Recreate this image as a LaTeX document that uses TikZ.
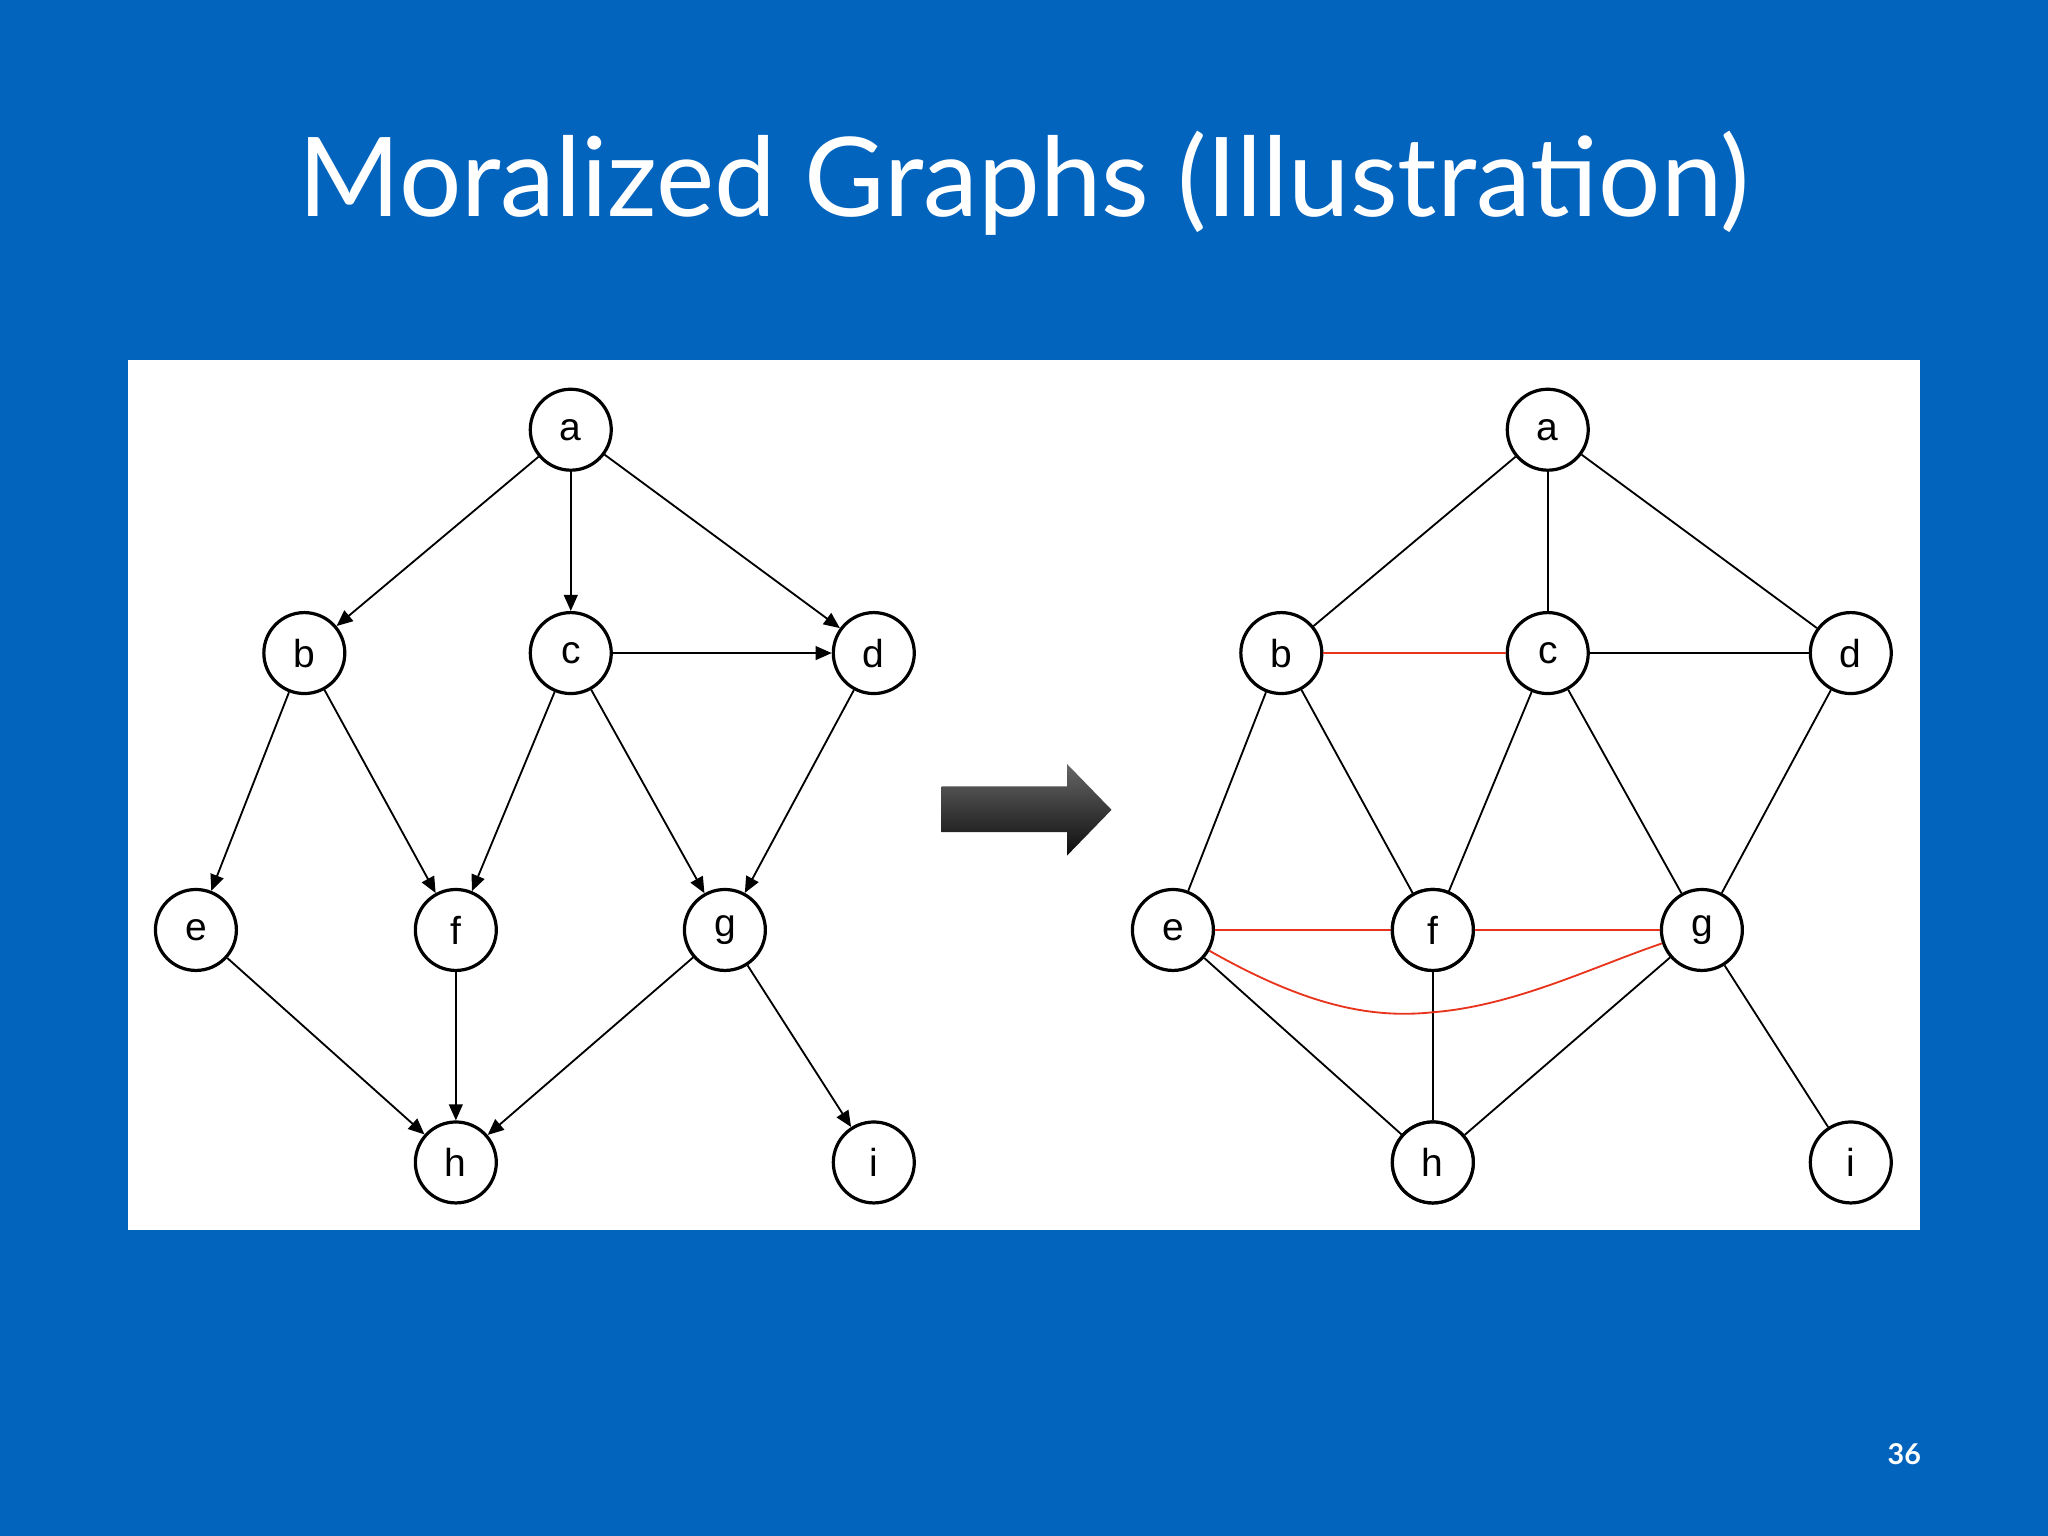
\documentclass[tikz,border=0pt]{standalone}
\usepackage{fontspec}
\setmainfont{Lato}
\newfontfamily\nodefont{Liberation Sans}
\usetikzlibrary{arrows.meta,shapes.arrows}
\definecolor{bg}{HTML}{0364BE}
\definecolor{redline}{HTML}{E8341C}
\begin{document}
\begin{tikzpicture}[x=0.02cm,y=-0.02cm,
  vnode/.style={circle,draw=black,line width=1.4pt,fill=white,minimum size=1.24cm,inner sep=0pt,font=\nodefont\fontsize{17}{17}\selectfont},
  dedge/.style={line width=0.8pt,-{Triangle[length=7pt,width=6pt]}},
  uedge/.style={line width=0.8pt},
  redge/.style={line width=0.8pt,draw=redline}]
\fill[bg] (0,0) rectangle (1568,1176);
\useasboundingbox (0,0) rectangle (1568,1176);
\node[text=white,font=\fontsize{48}{48}\selectfont] (title) at (784,140) {Moralized Graphs (Illustration)};
\node[text=white,font=\bfseries\fontsize{12.5}{12.5}\selectfont] (pg) at (1458,1113) {36};
\fill[white] (98,276) rectangle (1470,942);
% left graph
\node[vnode] (a) at (437,329) {a};
\node[vnode] (b) at (233,500) {b};
\node[vnode] (c) at (437,500) {c};
\node[vnode] (d) at (669,500) {d};
\node[vnode] (e) at (150,712) {e};
\node[vnode] (f) at (349,712) {f};
\node[vnode] (g) at (555,712) {g};
\node[vnode] (h) at (349,890) {h};
\node[vnode] (i) at (669,890) {i};
\foreach \u/\v in {a/b,a/c,a/d,c/d,b/e,b/f,c/f,c/g,d/g,e/h,f/h,g/h,g/i}
  \draw[dedge] (\u) -- (\v);
% arrow
\shade[top color=black!60,bottom color=black!95] (721,602) -- (817,602) -- (817,585) -- (851,620) -- (817,655) -- (817,637) -- (721,637) -- cycle;
% right graph
\node[vnode] (a2) at (1185,329) {a};
\node[vnode] (b2) at (981,500) {b};
\node[vnode] (c2) at (1185,500) {c};
\node[vnode] (d2) at (1417,500) {d};
\node[vnode] (e2) at (898,712) {e};
\node[vnode] (f2) at (1097,712) {f};
\node[vnode] (g2) at (1303,712) {g};
\node[vnode] (h2) at (1097,890) {h};
\node[vnode] (i2) at (1417,890) {i};
\begin{scope}[on background layer/.style={}]
\end{scope}
\foreach \u/\v in {a2/b2,a2/c2,a2/d2,c2/d2,b2/e2,b2/f2,c2/f2,c2/g2,d2/g2,e2/h2,f2/h2,g2/h2,g2/i2}
  \draw[uedge] (\u) -- (\v);
\draw[redge] (b2) -- (c2);
\draw[redge] (e2) -- (f2);
\draw[redge] (f2) -- (g2);
\draw[redge] (e2.east) ++(0,10) coordinate (es);
\draw[redge] (e2) .. controls (1000,770) and (1050,780) .. (1097,775) .. controls (1160,770) and (1220,740) .. (g2);
\node[vnode] at (f2) {f};
\node[vnode] at (h2) {h};
\end{tikzpicture}
\end{document}
